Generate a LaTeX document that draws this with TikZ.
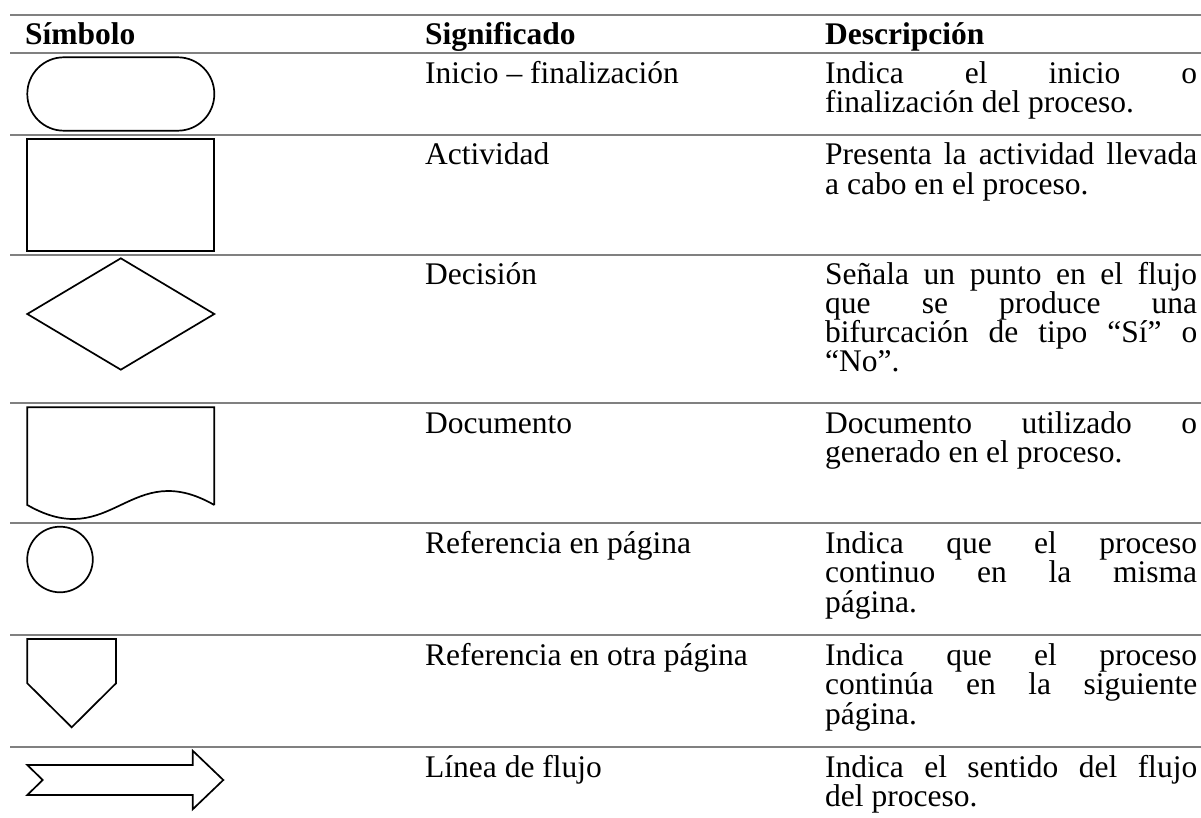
\documentclass[tikz,border=0pt]{standalone}
\usepackage{fontspec}
\setmainfont{Liberation Serif}
\tikzset{
  rule/.style={draw=black!50, line width=1.6pt},
  shp/.style={draw=black, line width=1.7pt, line join=miter},
  txt/.style={anchor=base west, inner sep=0pt, font=\fontsize{31.5pt}{29.5pt}\selectfont},
  hdr/.style={txt, font=\fontsize{31.5pt}{29.5pt}\selectfont\bfseries}
}
\newcommand{\jl}[1]{\makebox[372pt][s]{#1}}
\begin{document}
\begin{tikzpicture}[x=1pt,y=-1pt]
\useasboundingbox (0,0) rectangle (1201,818);
% rules
\foreach \yy in {15,53,135,255,403,523,635,747}
  \draw[rule] (10,\yy) -- (1201,\yy);
% header
\node[hdr] (h1) at (25,44.5) {Símbolo};
\node[hdr] (h2) at (425,44.5) {Significado};
\node[hdr] (h3) at (825,44.5) {Descripción};
% column 2
\node[txt] (s1) at (425,83.5) {Inicio – finalización};
\node[txt] (s2) at (425,165) {Actividad};
\node[txt] (s3) at (425,284) {Decisión};
\node[txt] (s4) at (425,433) {Documento};
\node[txt] (s5) at (425,553) {Referencia en página};
\node[txt] (s6) at (425,665) {Referencia en otra página};
\node[txt] (s7) at (425,777) {Línea de flujo};
% column 3
\node[txt] (d1a) at (825,83.5) {\jl{Indica el inicio o}};
\node[txt] (d1b) at (825,113) {finalización del proceso.};
\node[txt] (d2a) at (825,165) {\jl{Presenta la actividad llevada}};
\node[txt] (d2b) at (825,194.5) {a cabo en el proceso.};
\node[txt] (d3a) at (825,284) {\jl{Señala un punto en el flujo}};
\node[txt] (d3b) at (825,313) {\jl{que se produce una}};
\node[txt] (d3c) at (825,342) {\jl{bifurcación de tipo “Sí” o}};
\node[txt] (d3d) at (825,371) {“No”.};
\node[txt] (d4a) at (825,433) {\jl{Documento utilizado o}};
\node[txt] (d4b) at (825,462.5) {generado en el proceso.};
\node[txt] (d5a) at (825,553) {\jl{Indica que el proceso}};
\node[txt] (d5b) at (825,582.5) {\jl{continuo en la misma}};
\node[txt] (d5c) at (825,612) {página.};
\node[txt] (d6a) at (825,665) {\jl{Indica que el proceso}};
\node[txt] (d6b) at (825,694.5) {\jl{continúa en la siguiente}};
\node[txt] (d6c) at (825,724) {página.};
\node[txt] (d7a) at (825,777) {\jl{Indica el sentido del flujo}};
\node[txt] (d7b) at (825,806.5) {del proceso.};
% symbols
\draw[shp, rounded corners=36.5pt] (27.3,57.3) rectangle (214.3,130.7);
\draw[shp] (27.3,139.3) rectangle (214.3,250.7);
\draw[shp] (120.8,258.3) -- (214.3,314) -- (120.8,369.7) -- (27.3,314) -- cycle;
\draw[shp] (214.3,505) -- (214.3,407.3) -- (27.3,407.3) -- (27.3,505)
  .. controls (112,553.5) and (129.6,456.5) .. (214.3,505);
\draw[shp] (60,559.5) circle (32.8);
\draw[shp] (27.3,639) -- (116,639) -- (116,683.3) -- (71.7,727.3) -- (27.3,683.3) -- cycle;
\draw[shp] (27.3,765) -- (192.7,765) -- (192.7,750.7) -- (223.3,780) -- (192.7,809.3)
  -- (192.7,795) -- (27.3,795) -- (42.7,780) -- cycle;
\end{tikzpicture}
\end{document}
